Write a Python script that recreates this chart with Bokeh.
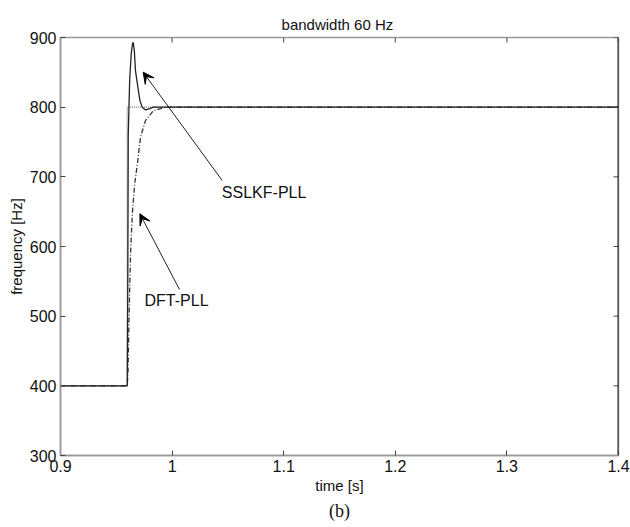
from bokeh.plotting import figure
from bokeh.models import LinearAxis, FixedTicker, Label, Arrow, VeeHead, Range1d, Title
from bokeh.embed import file_html
from bokeh.resources import INLINE

# ---- data ----
x_ticks = [0.9, 1.0, 1.1, 1.2, 1.3, 1.4]
y_ticks = [300, 400, 500, 600, 700, 800, 900]

t_ref = [0.9, 0.9598, 0.9598, 1.4]
f_ref = [400, 400, 800, 800]

t_sslkf = [0.9, 0.9598, 0.9603, 0.9607, 0.9620, 0.9634, 0.9645, 0.9652, 0.9662,
           0.9672, 0.9693, 0.9711, 0.9732, 0.9762, 0.9800, 0.9833, 1.0, 1.4]
f_sslkf = [400, 400, 550, 760, 840, 877, 891, 893, 880,
           852, 829, 810, 800, 796, 798, 800, 800, 800]

t_dft = [0.9, 0.9598, 0.9605, 0.9612, 0.9620, 0.9630, 0.9645, 0.9665, 0.9690,
         0.9717, 0.9762, 0.9833, 0.994, 1.4]
f_dft = [400, 400, 420, 480, 540, 600, 650, 690, 720,
         757, 781, 795, 800, 800]

FONT = "Liberation Sans"
X0, X1, Y0, Y1 = 0.9, 1.4, 300, 900

p = figure(frame_width=558, frame_height=418,
           x_range=Range1d(X0, X1), y_range=Range1d(Y0, Y1),
           output_backend="svg", toolbar_location=None,
           min_border_left=60, min_border_right=12, min_border_top=37, min_border_bottom=72,
           x_axis_location=None, y_axis_location=None)
p.xgrid.visible = False
p.ygrid.visible = False
p.outline_line_color = "#999999"
p.outline_line_width = 1.5
p.background_fill_color = "white"
p.border_fill_color = "white"

p.title = Title(text="bandwidth  60 Hz", text_font=FONT, text_font_size="15px",
                text_font_style="normal", align="center", text_color="#111111",
                standoff=10)

def mk_axis(ticks, label):
    ax = LinearAxis(ticker=FixedTicker(ticks=ticks), axis_label=label)
    ax.major_tick_in = 5
    ax.major_tick_out = 0
    ax.minor_tick_line_color = None
    ax.axis_line_color = "#999999"
    ax.axis_line_width = 1.5
    ax.major_tick_line_color = "#444444"
    ax.major_label_text_font = FONT
    ax.major_label_text_font_size = "16px"
    ax.major_label_text_color = "#111111"
    ax.major_label_standoff = 4
    ax.axis_label_text_font = FONT
    ax.axis_label_text_font_size = "15px"
    ax.axis_label_text_font_style = "normal"
    ax.axis_label_text_color = "#111111"
    return ax

xax = mk_axis(x_ticks, "time [s]")
xax.axis_label_standoff = 2
yax = mk_axis(y_ticks, "frequency [Hz]")
yax.axis_label_standoff = 2
p.add_layout(xax, "below")
p.add_layout(yax, "left")
p.add_layout(Title(text="(b)", text_font="Liberation Serif", text_font_size="18px",
                   text_font_style="normal", align="center", text_color="#111111",
                   standoff=5), "below")

# inward ticks on the top and right edges, from the tick arrays
tick_len_y = 5 * (Y1 - Y0) / 418
tick_len_x = 5 * (X1 - X0) / 558
p.segment(x0=x_ticks, y0=[Y1] * len(x_ticks), x1=x_ticks, y1=[Y1 - tick_len_y] * len(x_ticks),
          line_color="#444444", line_width=1)
p.segment(x0=[X1] * len(y_ticks), y0=y_ticks, x1=[X1 - tick_len_x] * len(y_ticks), y1=y_ticks,
          line_color="#444444", line_width=1)
p.segment(x0=[X1], y0=[Y0], x1=[X1], y1=[Y1], line_color="#222222", line_width=2)

p.line(t_ref, f_ref, line_color="#777777", line_width=1.2, line_dash="1 1")
p.line(t_dft, f_dft, line_color="#333333", line_width=1.3, line_dash="5 2 1 2")
p.line(t_sslkf, f_sslkf, line_color="#222222", line_width=1.3)

def lab(x, y, text):
    p.add_layout(Label(x=x, y=y, text=text, text_font=FONT, text_font_size="16px",
                       text_align="left", text_baseline="middle", text_color="#111111"))

lab(1.0446, 677.5, "SSLKF-PLL")
lab(0.9753, 522.5, "DFT-PLL")

p.add_layout(Arrow(end=VeeHead(size=11, fill_color="black", line_color="black"),
                   x_start=1.0449, y_start=694.7, x_end=0.9741, y_end=850.2,
                   line_color="#222222", line_width=1))
p.add_layout(Arrow(end=VeeHead(size=11, fill_color="black", line_color="black"),
                   x_start=1.0066, y_start=538.3, x_end=0.9711, y_end=647,
                   line_color="#222222", line_width=1))

open("out.html", "w").write(file_html(p, INLINE))
